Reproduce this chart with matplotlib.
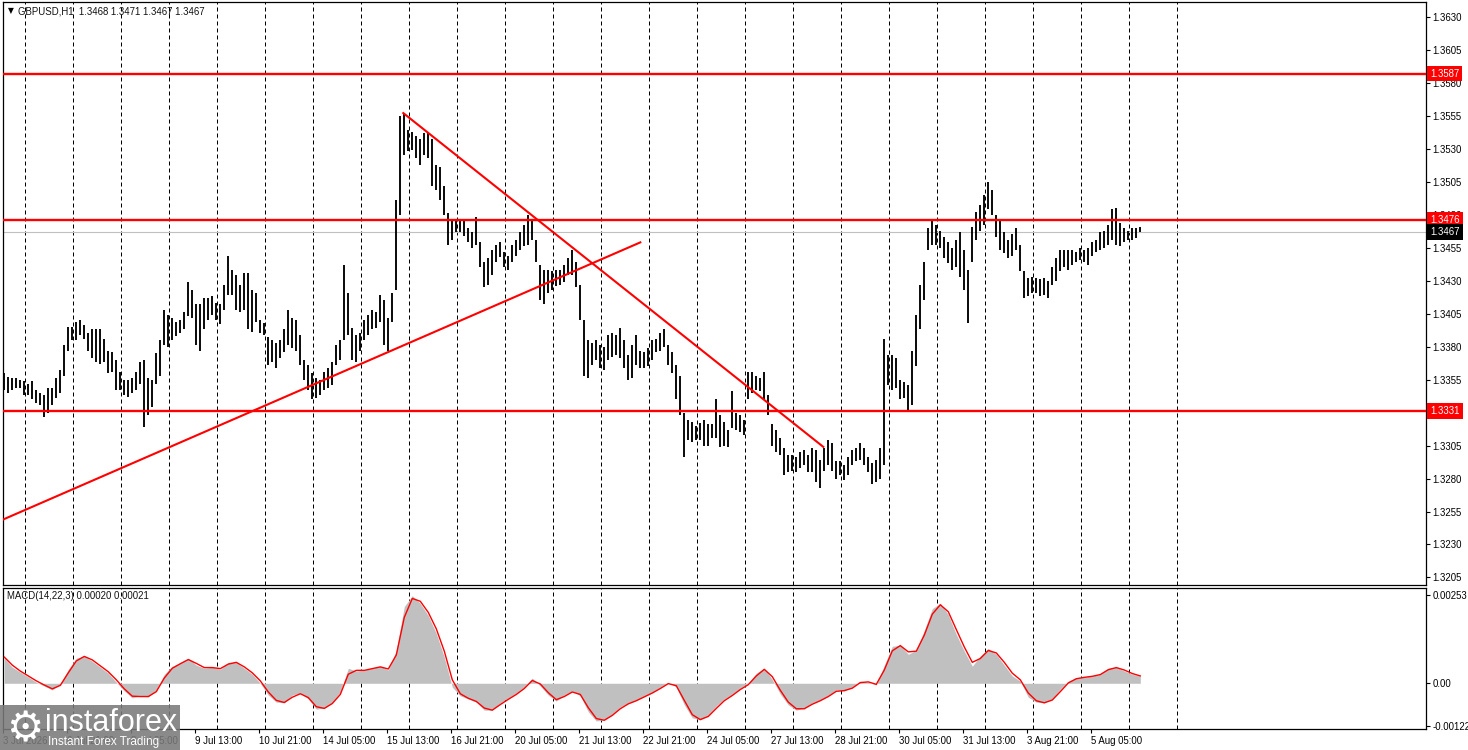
import numpy as np
import matplotlib.pyplot as plt
from matplotlib.patches import Rectangle

plt.rcParams['font.family'] = ['Liberation Sans', 'DejaVu Sans']

# GBPUSD H1 at a time (high / low)
highs = [
    1.3360, 1.3357, 1.3356, 1.3356, 1.3355, 1.3354, 1.3352, 1.3354, 1.3347, 1.3345,
    1.3343, 1.3349, 1.3349, 1.3356, 1.3362, 1.3381, 1.3395, 1.3395, 1.3399, 1.3400,
    1.3396, 1.3390, 1.3393, 1.3393, 1.3393, 1.3386, 1.3377, 1.3376, 1.3370, 1.3361,
    1.3355, 1.3355, 1.3356, 1.3361, 1.3368, 1.3370, 1.3356, 1.3355, 1.3375, 1.3385,
    1.3408, 1.3404, 1.3402, 1.3399, 1.3400, 1.3406, 1.3429, 1.3423, 1.3412, 1.3412,
    1.3417, 1.3417, 1.3418, 1.3413, 1.3412, 1.3427, 1.3449, 1.3438, 1.3434, 1.3427,
    1.3436, 1.3436, 1.3423, 1.3421, 1.3400, 1.3398, 1.3387, 1.3385, 1.3383, 1.3385,
    1.3393, 1.3408, 1.3402, 1.3400, 1.3389, 1.3370, 1.3366, 1.3360, 1.3356, 1.3355,
    1.3361, 1.3364, 1.3368, 1.3381, 1.3385, 1.3442, 1.3421, 1.3394, 1.3389, 1.3390,
    1.3400, 1.3404, 1.3408, 1.3406, 1.3419, 1.3415, 1.3402, 1.3421, 1.3491, 1.3555,
    1.3557, 1.3544, 1.3543, 1.3540, 1.3537, 1.3542, 1.3543, 1.3537, 1.3518, 1.3516,
    1.3502, 1.3481, 1.3477, 1.3477, 1.3477, 1.3476, 1.3470, 1.3467, 1.3478, 1.3459,
    1.3444, 1.3447, 1.3453, 1.3457, 1.3459, 1.3452, 1.3449, 1.3457, 1.3461, 1.3467,
    1.3472, 1.3480, 1.3477, 1.3461, 1.3442, 1.3438, 1.3438, 1.3437, 1.3438, 1.3438,
    1.3442, 1.3447, 1.3453, 1.3444, 1.3427, 1.3400, 1.3385, 1.3383, 1.3385, 1.3381,
    1.3380, 1.3389, 1.3390, 1.3389, 1.3394, 1.3385, 1.3374, 1.3381, 1.3389, 1.3377,
    1.3376, 1.3379, 1.3385, 1.3386, 1.3390, 1.3393, 1.3381, 1.3376, 1.3366, 1.3358,
    1.3330, 1.3324, 1.3323, 1.3320, 1.3322, 1.3324, 1.3321, 1.3321, 1.3340, 1.3328,
    1.3323, 1.3317, 1.3346, 1.3330, 1.3328, 1.3324, 1.3361, 1.3361, 1.3358, 1.3356,
    1.3361, 1.3343, 1.3321, 1.3317, 1.3311, 1.3303, 1.3298, 1.3298, 1.3296, 1.3300,
    1.3302, 1.3298, 1.3303, 1.3302, 1.3294, 1.3303, 1.3309, 1.3307, 1.3293, 1.3293,
    1.3290, 1.3296, 1.3302, 1.3303, 1.3307, 1.3303, 1.3296, 1.3292, 1.3294, 1.3303,
    1.3386, 1.3374, 1.3374, 1.3371, 1.3355, 1.3353, 1.3351, 1.3377, 1.3404, 1.3427,
    1.3444, 1.3470, 1.3476, 1.3472, 1.3468, 1.3463, 1.3459, 1.3455, 1.3461, 1.3467,
    1.3453, 1.3438, 1.3471, 1.3482, 1.3487, 1.3495, 1.3505, 1.3499, 1.3480, 1.3476,
    1.3467, 1.3461, 1.3465, 1.3470, 1.3457, 1.3437, 1.3432, 1.3433, 1.3432, 1.3431,
    1.3432, 1.3430, 1.3440, 1.3447, 1.3453, 1.3453, 1.3453, 1.3453, 1.3452, 1.3455,
    1.3453, 1.3455, 1.3459, 1.3461, 1.3467, 1.3468, 1.3472, 1.3484, 1.3485, 1.3474,
    1.3470, 1.3468, 1.3470, 1.3470, 1.3471,
]
lows = [
    1.3347, 1.3345, 1.3347, 1.3349, 1.3349, 1.3343, 1.3343, 1.3340, 1.3337, 1.3336,
    1.3327, 1.3330, 1.3336, 1.3341, 1.3345, 1.3358, 1.3377, 1.3385, 1.3385, 1.3389,
    1.3386, 1.3377, 1.3371, 1.3368, 1.3367, 1.3368, 1.3360, 1.3361, 1.3347, 1.3347,
    1.3343, 1.3342, 1.3345, 1.3347, 1.3352, 1.3319, 1.3328, 1.3334, 1.3352, 1.3358,
    1.3381, 1.3380, 1.3385, 1.3388, 1.3390, 1.3393, 1.3403, 1.3402, 1.3381, 1.3377,
    1.3393, 1.3400, 1.3404, 1.3400, 1.3397, 1.3408, 1.3419, 1.3419, 1.3408, 1.3406,
    1.3408, 1.3393, 1.3391, 1.3399, 1.3390, 1.3389, 1.3366, 1.3368, 1.3364, 1.3371,
    1.3376, 1.3381, 1.3379, 1.3377, 1.3366, 1.3355, 1.3347, 1.3340, 1.3341, 1.3343,
    1.3347, 1.3349, 1.3351, 1.3366, 1.3370, 1.3385, 1.3389, 1.3370, 1.3368, 1.3377,
    1.3385, 1.3389, 1.3393, 1.3394, 1.3399, 1.3381, 1.3377, 1.3399, 1.3423, 1.3480,
    1.3525, 1.3528, 1.3529, 1.3523, 1.3518, 1.3525, 1.3523, 1.3502, 1.3499, 1.3491,
    1.3480, 1.3457, 1.3461, 1.3467, 1.3467, 1.3464, 1.3459, 1.3455, 1.3457, 1.3440,
    1.3425, 1.3427, 1.3434, 1.3444, 1.3448, 1.3440, 1.3438, 1.3444, 1.3449, 1.3453,
    1.3456, 1.3457, 1.3461, 1.3444, 1.3415, 1.3412, 1.3421, 1.3423, 1.3426, 1.3427,
    1.3429, 1.3434, 1.3434, 1.3425, 1.3400, 1.3358, 1.3356, 1.3366, 1.3370, 1.3364,
    1.3362, 1.3370, 1.3372, 1.3374, 1.3371, 1.3364, 1.3355, 1.3356, 1.3366, 1.3364,
    1.3364, 1.3365, 1.3370, 1.3376, 1.3377, 1.3380, 1.3366, 1.3360, 1.3340, 1.3328,
    1.3296, 1.3309, 1.3308, 1.3309, 1.3309, 1.3305, 1.3305, 1.3311, 1.3311, 1.3304,
    1.3305, 1.3304, 1.3318, 1.3317, 1.3315, 1.3313, 1.3340, 1.3345, 1.3347, 1.3346,
    1.3340, 1.3328, 1.3305, 1.3300, 1.3298, 1.3283, 1.3285, 1.3286, 1.3285, 1.3288,
    1.3290, 1.3285, 1.3285, 1.3277, 1.3273, 1.3286, 1.3290, 1.3286, 1.3280, 1.3283,
    1.3279, 1.3283, 1.3290, 1.3293, 1.3294, 1.3290, 1.3285, 1.3276, 1.3277, 1.3280,
    1.3290, 1.3351, 1.3347, 1.3349, 1.3340, 1.3341, 1.3332, 1.3336, 1.3365, 1.3393,
    1.3415, 1.3453, 1.3457, 1.3457, 1.3455, 1.3447, 1.3443, 1.3438, 1.3440, 1.3433,
    1.3423, 1.3398, 1.3444, 1.3461, 1.3468, 1.3472, 1.3484, 1.3480, 1.3463, 1.3453,
    1.3451, 1.3447, 1.3449, 1.3453, 1.3437, 1.3417, 1.3418, 1.3421, 1.3421, 1.3418,
    1.3419, 1.3417, 1.3427, 1.3430, 1.3437, 1.3440, 1.3438, 1.3442, 1.3444, 1.3446,
    1.3444, 1.3442, 1.3449, 1.3452, 1.3453, 1.3455, 1.3457, 1.3461, 1.3457, 1.3456,
    1.3459, 1.3461, 1.3461, 1.3462, 1.3467,
]

# MACD(14,22,3), one reading every 4 hourly bars
macd_main = [
    0.00072, 0.00046, 0.00032, 0.00018, 0.00003, -0.00008, -0.00019, -0.00002, 0.00040, 0.00072,
    0.00078, 0.00063, 0.00046, 0.00029, 0.00003, -0.00022, -0.00042, -0.00036, -0.00039, -0.00019,
    0.00026, 0.00049, 0.00058, 0.00072, 0.00052, 0.00043, 0.00046, 0.00040, 0.00060, 0.00060,
    0.00043, 0.00026, 0.00000, -0.00034, -0.00054, -0.00056, -0.00034, -0.00028, -0.00045, -0.00074,
    -0.00071, -0.00054, -0.00025, 0.00043, 0.00035, 0.00038, 0.00043, 0.00049, 0.00038, 0.00095,
    0.00220, 0.00251, 0.00229, 0.00194, 0.00143, 0.00075, -0.00011, -0.00036, -0.00045, -0.00054,
    -0.00077, -0.00077, -0.00056, -0.00042, -0.00028, -0.00011, 0.00015, -0.00008, -0.00034, -0.00051,
    -0.00034, -0.00022, -0.00036, -0.00082, -0.00108, -0.00105, -0.00088, -0.00068, -0.00056, -0.00048,
    -0.00036, -0.00025, -0.00011, 0.00003, -0.00011, -0.00062, -0.00099, -0.00105, -0.00091, -0.00065,
    -0.00045, -0.00031, -0.00014, 0.00000, 0.00029, 0.00043, 0.00011, -0.00031, -0.00062, -0.00077,
    -0.00071, -0.00056, -0.00048, -0.00034, -0.00019, -0.00022, -0.00011, 0.00006, 0.00003, -0.00005,
    0.00052, 0.00106, 0.00109, 0.00083, 0.00095, 0.00152, 0.00214, 0.00229, 0.00197, 0.00140,
    0.00092, 0.00049, 0.00078, 0.00100, 0.00083, 0.00052, 0.00021, 0.00006, -0.00040, -0.00054,
    -0.00056, -0.00045, -0.00017, 0.00006, 0.00015, 0.00018, 0.00021, 0.00026, 0.00043, 0.00046,
    0.00035, 0.00026, 0.00020,
]
macd_signal = [
    0.00075, 0.00052, 0.00035, 0.00021, 0.00007, -0.00005, -0.00016, -0.00006, 0.00030, 0.00064,
    0.00077, 0.00067, 0.00050, 0.00033, 0.00010, -0.00016, -0.00037, -0.00038, -0.00038, -0.00024,
    0.00015, 0.00043, 0.00056, 0.00068, 0.00057, 0.00045, 0.00045, 0.00042, 0.00055, 0.00060,
    0.00047, 0.00030, 0.00007, -0.00025, -0.00049, -0.00055, -0.00040, -0.00030, -0.00041, -0.00067,
    -0.00072, -0.00058, -0.00032, 0.00026, 0.00037, 0.00037, 0.00042, 0.00047, 0.00041, 0.00081,
    0.00189, 0.00243, 0.00235, 0.00203, 0.00156, 0.00092, 0.00010, -0.00030, -0.00043, -0.00052,
    -0.00071, -0.00077, -0.00061, -0.00046, -0.00032, -0.00015, 0.00008, -0.00002, -0.00027, -0.00047,
    -0.00038, -0.00025, -0.00032, -0.00070, -0.00101, -0.00106, -0.00092, -0.00073, -0.00059, -0.00050,
    -0.00039, -0.00028, -0.00015, -0.00001, -0.00007, -0.00049, -0.00090, -0.00104, -0.00095, -0.00072,
    -0.00050, -0.00035, -0.00018, -0.00004, 0.00021, 0.00040, 0.00019, -0.00020, -0.00054, -0.00073,
    -0.00073, -0.00060, -0.00050, -0.00038, -0.00023, -0.00021, -0.00014, 0.00002, 0.00004, -0.00003,
    0.00038, 0.00093, 0.00108, 0.00090, 0.00092, 0.00138, 0.00198, 0.00225, 0.00205, 0.00154,
    0.00104, 0.00060, 0.00071, 0.00094, 0.00087, 0.00060, 0.00029, 0.00010, -0.00028, -0.00050,
    -0.00056, -0.00048, -0.00024, 0.00001, 0.00013, 0.00017, 0.00020, 0.00025, 0.00039, 0.00045,
    0.00038, 0.00028, 0.00021,
]

date_labels = ['3 Jul 2026', '6 Jul 21:00', '8 Jul 05:00', '9 Jul 13:00', '10 Jul 21:00',
               '14 Jul 05:00', '15 Jul 13:00', '16 Jul 21:00', '20 Jul 05:00', '21 Jul 13:00',
               '22 Jul 21:00', '24 Jul 05:00', '27 Jul 13:00', '28 Jul 21:00', '30 Jul 05:00',
               '31 Jul 13:00', '3 Aug 21:00', '5 Aug 05:00']
levels = [1.3587, 1.3476, 1.3331]
last_price = 1.3467
# trend lines: (hourly bar index, price) at both ends
trend_up = [(0, 1.3249), (318.5, 1.3459)]
trend_down = [(200, 1.3557), (410, 1.3304)]
price_ticks = [round(1.3205 + 0.0025 * n, 4) for n in range(18)]
macd_ticks = [-0.00122, 0.0, 0.00253]

FS = 6.9

fig = plt.figure(figsize=(14.68, 7.5), dpi=100)
ax = fig.add_axes([3 / 1468, 165 / 750, 1423 / 1468, 583 / 750])
axm = fig.add_axes([3 / 1468, 21 / 750, 1423 / 1468, 141 / 750])

bar_x = np.arange(len(highs)) * 2 + 0.5
macd_x = np.arange(len(macd_main)) * 4 + 0.5
day_x = np.arange(11, 600, 24)

for a in (ax, axm):
    a.set_xlim(-0.15, 711.35)
    for d in day_x:
        a.axvline(d, color='black', lw=0.72, ls=(0, (4, 3)), zorder=1)
    for s in a.spines.values():
        s.set_linewidth(0.9)
    a.yaxis.tick_right()
    a.tick_params(axis='y', direction='out', length=3, width=0.8, pad=1.5, labelsize=FS)

# price panel
ax.vlines(bar_x, lows, highs, color='black', lw=1.35, zorder=2)
ax.axhline(last_price, color='#c0c0c0', lw=0.8, zorder=1.5)
for lv in levels:
    ax.axhline(lv, color='#ff0000', lw=1.7, zorder=3)
ax.plot([p[0] for p in trend_up], [p[1] for p in trend_up], color='#ff0000', lw=1.5, zorder=3)
ax.plot([p[0] for p in trend_down], [p[1] for p in trend_down], color='#ff0000', lw=1.5, zorder=3)
ax.set_ylim(1.31993, 1.36412)
ax.set_yticks(price_ticks)
ax.set_yticklabels(['%.4f' % v for v in price_ticks])
ax.set_xticks([])

for lv, fc in [(levels[0], '#ff0000'), (levels[1], '#ff0000'), (levels[2], '#ff0000'),
               (last_price, 'black')]:
    ax.annotate('%.4f' % lv, xy=(1, lv), xycoords=ax.get_yaxis_transform(),
                xytext=(3, 0), textcoords='offset points', ha='left', va='center',
                fontsize=FS, color='white', annotation_clip=False,
                bbox=dict(boxstyle='square,pad=0.3', fc=fc, ec='none'))

fig.text(8 / 1468, 1 - 11 / 750, '\u25bc', fontsize=5.5, va='center', family='DejaVu Sans')
fig.text(18 / 1468, 1 - 11 / 750, 'GBPUSD,H1  1.3468 1.3471 1.3467 1.3467',
         fontsize=FS, va='center', color='#111111')

# MACD panel
axm.fill_between(macd_x, 0, macd_main, color='#c0c0c0', lw=0, interpolate=True, zorder=2)
axm.plot(macd_x, macd_signal, color='#ff0000', lw=1.0, zorder=3)
axm.set_ylim(-0.00131, 0.00273)
axm.set_yticks(macd_ticks)
axm.set_yticklabels(['-0.00122', '0.00', '0.00253'])
axm.text(4 / 1423, 0.943, 'MACD(14,22,3) 0.00020 0.00021', transform=axm.transAxes,
         fontsize=FS, va='center', color='#111111')
axm.set_xticks(np.arange(len(date_labels)) * 32)
axm.set_xticklabels(date_labels, ha='left', fontsize=FS)
axm.tick_params(axis='x', direction='out', length=3, width=0.8, pad=2)

# instaforex watermark
fig.add_artist(Rectangle((0, 0), 180 / 1468, 45 / 750, transform=fig.transFigure,
                         fc='#7a7a7a', ec='none', alpha=0.88, zorder=5))
fig.text(6 / 1468, 21 / 750, '\u2699', fontsize=30, color='white', va='center',
         family='DejaVu Sans', zorder=6)
fig.text(45 / 1468, 27 / 750, 'instaforex', fontsize=22, color='white', va='center',
         family='Liberation Sans', zorder=6)
fig.text(48 / 1468, 8 / 750, 'Instant Forex Trading', fontsize=8.5, color='white',
         va='center', zorder=6)

fig.savefig('out.png', dpi=100)
